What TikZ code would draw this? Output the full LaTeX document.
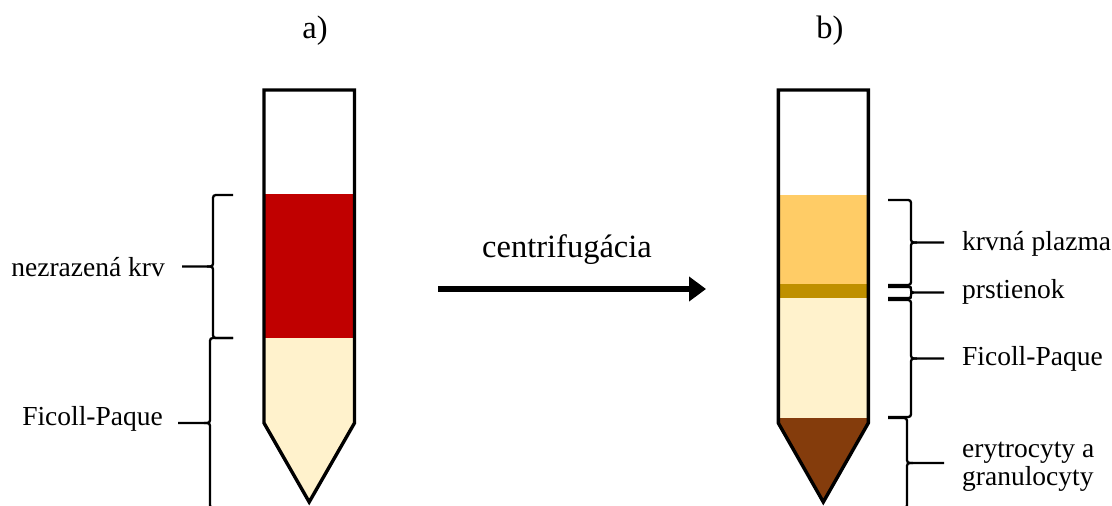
\documentclass[tikz,border=0pt]{standalone}
\usepackage{fontspec}
\setmainfont{Liberation Serif}
\usetikzlibrary{arrows.meta}

\definecolor{bloodred}{HTML}{C00000}
\definecolor{ficoll}{HTML}{FFF2CC}
\definecolor{plasma}{HTML}{FFCC66}
\definecolor{ringband}{HTML}{BF9000}
\definecolor{sediment}{HTML}{843C0C}

% Curly brace: #1 x of the two ends, #2 x of the spine, #3 top y, #4 bottom y,
% #5 x where the line from the tip stops
\newcommand{\sidebrace}[5]{%
  \pgfmathsetmacro\bmid{(#3+#4)/2}%
  \pgfmathsetmacro\brad{min(6,(#4-#3)/4)}%
  \pgfmathsetmacro\bdir{sign(#5-#2)}%
  \pgfmathsetmacro\bend{#2-\bdir*\brad}%
  \pgfmathsetmacro\btip{#2+\bdir*\brad}%
  \draw[bracestyle] (#1,#3) -- (\bend,#3) .. controls (#2,#3) .. (#2,#3+\brad)
    -- (#2,\bmid-\brad) .. controls (#2,\bmid) .. (\btip,\bmid) -- (#5,\bmid);
  \draw[bracestyle] (#1,#4) -- (\bend,#4) .. controls (#2,#4) .. (#2,#4-\brad)
    -- (#2,\bmid+\brad) .. controls (#2,\bmid) .. (\btip,\bmid);
}

\begin{document}
\begin{tikzpicture}[x=1pt,y=-1pt,
  tubewall/.style={line width=3.4pt, line join=miter},
  bracestyle/.style={line width=2.3pt},
  label/.style={inner sep=0pt, font=\fontsize{27.5}{28}\selectfont},
  heading/.style={inner sep=0pt, font=\fontsize{32.5}{36}\selectfont},
  flow/.style={line width=6pt, -{Triangle[length=17pt,width=24pt]}}]
\useasboundingbox (0,0) rectangle (1112,506);

% headings
\node[heading, anchor=base] (hdA) at (315,38) {a)};
\node[heading, anchor=base] (hdB) at (830,38) {b)};

% tube a: whole blood layered over Ficoll-Paque
\begin{scope}
  \clip (264,90) -- (354.5,90) -- (354.5,423) -- (309.2,502) -- (264,423) -- cycle;
  \fill[bloodred] (250,194) rectangle (370,338);
  \fill[ficoll] (250,338) rectangle (370,515);
\end{scope}
\draw[tubewall] (264,90) -- (354.5,90) -- (354.5,423) -- (309.2,502) -- (264,423) -- cycle;

% tube b: separated layers after centrifugation
\begin{scope}
  \clip (778.3,90) -- (868.3,90) -- (868.3,423) -- (823.3,502) -- (778.3,423) -- cycle;
  \fill[plasma] (760,195) rectangle (890,284);
  \fill[ringband] (760,284) rectangle (890,298.3);
  \fill[ficoll] (760,298.3) rectangle (890,418);
  \fill[sediment] (760,418) rectangle (890,515);
\end{scope}
\draw[tubewall] (778.3,90) -- (868.3,90) -- (868.3,423) -- (823.3,502) -- (778.3,423) -- cycle;

% centrifugation arrow
\node[heading, anchor=base] (spin) at (567,257) {centrifugácia};
\coordinate (arrowStart) at (438,289);
\coordinate (arrowEnd) at (706,289);
\draw[flow] (arrowStart) -- (arrowEnd);

% braces and labels of tube a
\sidebrace{233}{213}{195}{338}{182}
\sidebrace{233}{210}{338}{508}{178}
\node[label, anchor=base east] (lblBlood) at (165,276) {nezrazená krv};
\node[label, anchor=base east] (lblFicollA) at (163,425) {Ficoll-Paque};

% braces and labels of tube b
\sidebrace{888}{911}{200}{285}{944}
\sidebrace{888}{911}{287}{298}{944}
\sidebrace{888}{911}{300}{417}{944}
\sidebrace{888}{907}{418}{508}{944}
\node[label, anchor=base west] (lblPlasma) at (962,250) {krvná plazma};
\node[label, anchor=base west] (lblRing) at (962,298) {prstienok};
\node[label, anchor=base west] (lblFicollB) at (962,365) {Ficoll-Paque};
\node[label, anchor=west, align=left] (lblCells) at (962,467) {erytrocyty a\\granulocyty};
\end{tikzpicture}
\end{document}
